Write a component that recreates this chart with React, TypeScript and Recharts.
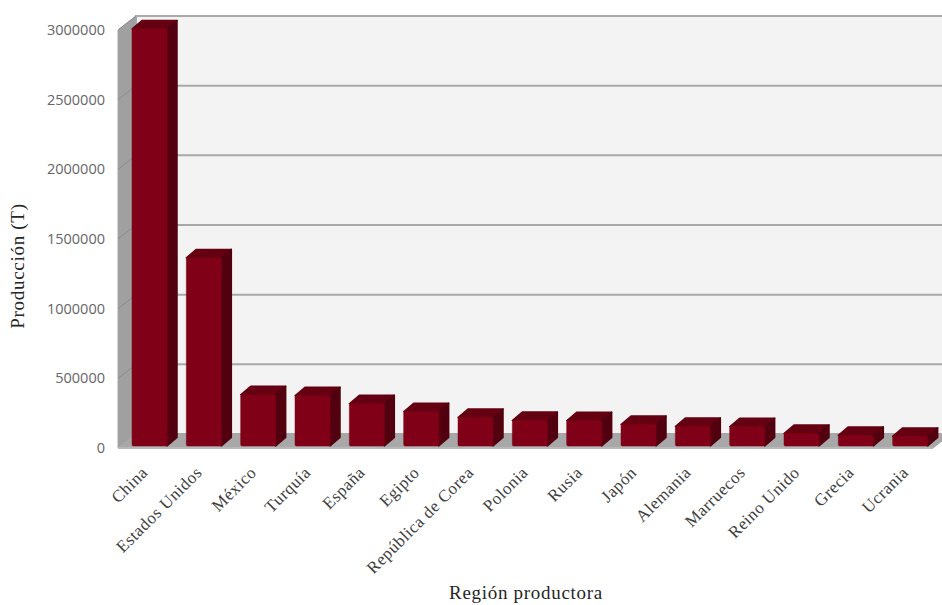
import React from "react";
import { BarChart, Bar, XAxis, YAxis, ReferenceArea } from "recharts";

const categories = ["China","Estados Unidos","México","Turquía","España","Egipto","República de Corea","Polonia","Rusia","Japón","Alemania","Marruecos","Reino Unido","Grecia","Ucrania"];
const production = [2993000,1350000,367000,360000,303000,246000,204000,183000,181000,154000,140000,138000,90000,76000,69000];
const yTicks = [0,500000,1000000,1500000,2000000,2500000,3000000];
const data = categories.map((name,i)=>({name,value:production[i]}));

const DX = 18, DY = 14;
const BDX = 10, BDY = 8.5;

function Walls(p:any){
  const {x,y,width,height}=p;
  const bottom=y+height, right=x+width;
  return <g>
    <polygon points={`${x+DX},${y-DY} ${right+DX},${y-DY} ${right+DX},${bottom-DY} ${x+DX},${bottom-DY}`} fill="#f3f3f3" stroke="#a6a6a6" strokeWidth={2}/>
    <polygon points={`${x},${y} ${x+DX},${y-DY} ${x+DX},${bottom-DY} ${x},${bottom}`} fill="#a0a0a0" stroke="#a6a6a6"/>
    <polygon points={`${x},${bottom} ${x+DX},${bottom-DY} ${right+DX},${bottom-DY} ${right},${bottom}`} fill="#a8a8a8" stroke="#a6a6a6"/>
    {yTicks.slice(1).map(t=>{
      const ty=bottom-height*t/3000000;
      return <g key={t}>
        <line x1={x} y1={ty} x2={x+DX} y2={ty-DY} stroke="#8c8c8c" strokeWidth={1}/>
        <line x1={x+DX} y1={ty-DY} x2={right+DX} y2={ty-DY} stroke="#a9a9a9" strokeWidth={2}/>
      </g>;
    })}
    <line x1={x} y1={bottom} x2={right} y2={bottom} stroke="#b8b8b8" strokeWidth={2}/>
  </g>;
}

function Bar3D(p:any){
  const x=p.x+4, w=p.width, y=p.y-2, h=p.height;
  const b=y+h, r=x+w;
  return <g strokeLinejoin="round">
    <polygon points={`${x},${y} ${x+BDX},${y-BDY} ${r+BDX},${y-BDY} ${r},${y}`} fill="#640011" stroke="#640011" strokeWidth={1.5}/>
    <polygon points={`${r},${y} ${r+BDX},${y-BDY} ${r+BDX},${b-BDY} ${r},${b}`} fill="#52000f" stroke="#52000f" strokeWidth={1.5}/>
    <rect x={x} y={y} width={w} height={h} fill="#800018" stroke="#800018" strokeWidth={0.5} rx={1.5}/>
  </g>;
}

const titleStyle = {fontFamily:"Liberation Serif",fill:"#262626"};

export default function App(){
  return <div style={{position:"absolute",left:0,top:0,width:942,height:605,background:"#fff"}}>
    <BarChart width={942} height={605} data={data} margin={{top:30,right:9,bottom:0,left:0}} barSize={35} style={{overflow:"hidden"}}>
      <XAxis dataKey="name" interval={0} axisLine={false} tickLine={false} angle={-45} textAnchor="end" height={157}
        tick={{fontFamily:"Liberation Serif",fontSize:17,fill:"#404040",letterSpacing:0.5,dx:-5,dy:9}}
        label={{content:()=><text x={526} y={599} textAnchor="middle" fontSize={19} letterSpacing={0.7} {...titleStyle}>Región productora</text>}}/>
      <YAxis domain={[0,3000000]} ticks={yTicks} interval={0} axisLine={false} tickLine={false} width={118}
        tick={{fontFamily:"Open Sans",fontSize:14.5,fill:"#666666",dx:-5}}
        label={{content:()=><text transform="translate(24,266) rotate(-90)" textAnchor="middle" fontSize={19} letterSpacing={0.7} {...titleStyle}>Producción (T)</text>}}/>
      <ReferenceArea y1={0} y2={3000000} ifOverflow="visible" shape={Walls} zIndex={0}/>
      <Bar dataKey="value" isAnimationActive={false} shape={Bar3D}/>
    </BarChart>
  </div>;
}
